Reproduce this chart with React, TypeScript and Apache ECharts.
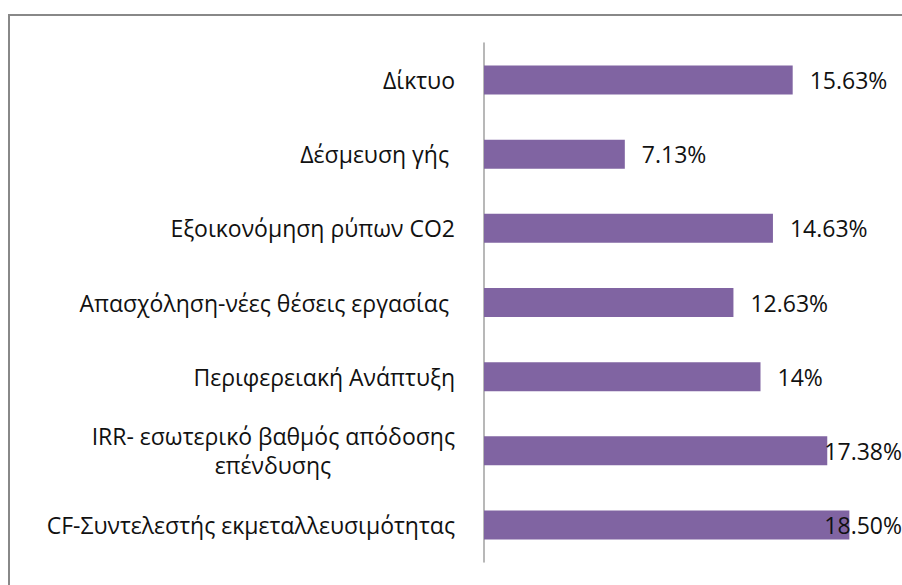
import React, { useEffect, useRef } from "react";
import * as echarts from "echarts";

const categories = [
  "Δίκτυο",
  "Δέσμευση γής ",
  "Εξοικονόμηση ρύπων CO2",
  "Απασχόληση-νέες θέσεις εργασίας ",
  "Περιφερειακή Ανάπτυξη",
  "IRR- εσωτερικό βαθμός απόδοσης\nεπένδυσης",
  "CF-Συντελεστής εκμεταλλευσιμότητας",
];
const values = [15.63, 7.13, 14.63, 12.63, 14, 17.38, 18.5];
const valueLabels = ["15.63%", "7.13%", "14.63%", "12.63%", "14%", "17.38%", "18.50%"];

const W = 902;
const H = 585;
const FONT = "'Open Sans', 'Noto Sans', sans-serif";
const FS = 23;
const TEXT = "#111111";
const LABEL_MARGIN = 29;

function measure(text: string): number {
  const c = document.createElement("canvas");
  const ctx = c.getContext("2d");
  if (!ctx) return text.length * FS * 0.5;
  ctx.font = FS + "px " + FONT;
  return ctx.measureText(text).width;
}

export default function App() {
  const ref = useRef<HTMLDivElement>(null);
  useEffect(() => {
    if (!ref.current) return;
    const chart = echarts.init(ref.current, null, { renderer: "svg" });
    const multi = categories.filter((c) => c.includes("\n"));
    chart.setOption({
      animation: false,
      backgroundColor: "#ffffff",
      textStyle: { fontFamily: FONT },
      graphic: [
        {
          id: "frame",
          type: "rect",
          shape: { x: 9, y: 15, width: 1000, height: 1000 },
          style: { fill: "none", stroke: "#888888", lineWidth: 2 },
          z: 100,
        },
      ],
      grid: { left: 484, right: 23, top: 43, bottom: H - 562, containLabel: false },
      xAxis: { type: "value", min: 0, max: 20, show: false },
      yAxis: {
        type: "category",
        inverse: true,
        data: categories,
        axisLine: { show: true, lineStyle: { color: "#a0a0a0", width: 1.5 } },
        axisTick: { show: false },
        axisLabel: {
          margin: LABEL_MARGIN,
          color: TEXT,
          fontSize: FS,
          fontFamily: FONT,
          lineHeight: 29,
          // multi-line labels are drawn centred below, as in the reference
          formatter: (v: string) => (v.includes("\n") ? "" : v),
        },
      },
      series: [
        {
          type: "bar",
          data: values,
          barWidth: 29,
          itemStyle: { color: "#8064A2" },
          label: {
            show: true,
            position: "right",
            distance: 17,
            color: TEXT,
            fontSize: FS,
            fontFamily: FONT,
            formatter: (p: any) => valueLabels[p.dataIndex],
          },
          labelLayout: (p: any) => {
            const r = p.labelRect;
            if (r.x + r.width > W) {
              return {
                x: W - r.width,
                y: r.y + r.height / 2,
                align: "left",
                verticalAlign: "middle",
              };
            }
            return {};
          },
        },
      ],
    });
    const axisX = chart.convertToPixel({ xAxisIndex: 0 }, 0) as number;
    const extra = multi.map((c, k) => {
      const lines = c.split("\n");
      const widths = lines.map(measure);
      const w = Math.max(...widths);
      const rich: any = {
        t: { align: "left", fontSize: FS, fontFamily: FONT, fill: TEXT, lineHeight: 29 },
      };
      const text = lines
        .map((s, i) => {
          const pad = Math.round((w - widths[i]) / 2);
          if (pad <= 0) return "{t|" + s + "}";
          const key = "sp" + i;
          rich[key] = { width: pad, align: "left", fontSize: FS, fontFamily: FONT, lineHeight: 29 };
          return "{" + key + "| }{t|" + s + "}";
        })
        .join("\n");
      const y = chart.convertToPixel({ yAxisIndex: 0 }, c) as number;
      return {
        id: "ml" + k,
        type: "text",
        x: axisX - LABEL_MARGIN,
        y,
        style: {
          text,
          align: "right",
          verticalAlign: "middle",
          fontSize: FS,
          fontFamily: FONT,
          fill: TEXT,
          rich,
        },
      };
    });
    chart.setOption({
      graphic: [
        {
          id: "frame",
          type: "rect",
          shape: { x: 9, y: 15, width: 1000, height: 1000 },
          style: { fill: "none", stroke: "#888888", lineWidth: 2 },
          z: 100,
        },
        ...extra,
      ],
    });
    return () => chart.dispose();
  }, []);
  return (
    <div
      ref={ref}
      style={{ position: "fixed", left: 0, top: 0, width: W, height: H, background: "#fff" }}
    />
  );
}
